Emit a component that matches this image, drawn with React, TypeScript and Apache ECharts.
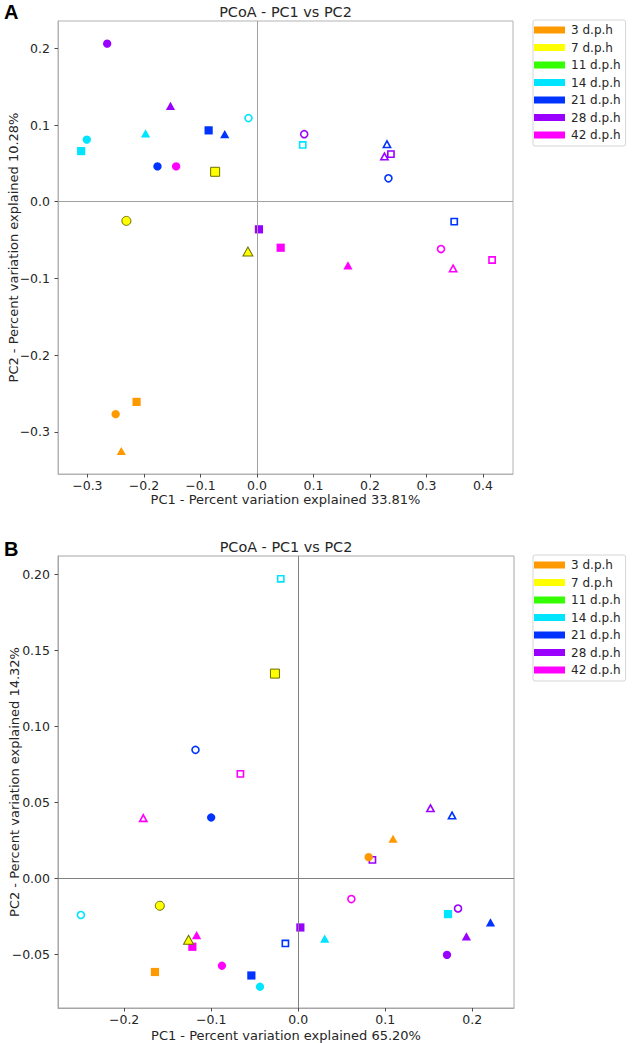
import React, { useEffect, useRef } from 'react';
import * as echarts from 'echarts';

const groups = ['3 d.p.h', '7 d.p.h', '11 d.p.h', '14 d.p.h', '21 d.p.h', '28 d.p.h', '42 d.p.h'];
const groupColors = ['#ff9900', '#ffff00', '#33ff00', '#00e5ff', '#0033ff', '#9900ff', '#ff00ff'];

// rows: [PC1, PC2, marker ('o' circle, 's' square, '^' triangle), filled (1) / hollow (0)]
type Pt = [number, number, string, number];

// ---- Panel A ----
const pcoaA_3dph: Pt[] = [[-0.250, -0.277, 'o', 1], [-0.213, -0.261, 's', 1], [-0.240, -0.325, '^', 1]];
const pcoaA_7dph: Pt[] = [[-0.231, -0.025, 'o', 1], [-0.074, 0.039, 's', 1], [-0.016, -0.065, '^', 1]];
const pcoaA_11dph: Pt[] = [];
const pcoaA_14dph: Pt[] = [[-0.301, 0.081, 'o', 1], [-0.311, 0.066, 's', 1], [-0.197, 0.089, '^', 1], [-0.015, 0.109, 'o', 0], [0.081, 0.074, 's', 0]];
const pcoaA_21dph: Pt[] = [[-0.176, 0.046, 'o', 1], [-0.0855, 0.093, 's', 1], [-0.057, 0.088, '^', 1], [0.2326, 0.0305, 'o', 0], [0.349, -0.026, 's', 0], [0.230, 0.075, '^', 0]];
const pcoaA_28dph: Pt[] = [[-0.265, 0.206, 'o', 1], [-0.153, 0.125, '^', 1], [0.0035, -0.036, 's', 1], [0.0836, 0.088, 'o', 0], [0.2255, 0.059, '^', 0], [0.237, 0.062, 's', 0]];
const pcoaA_42dph: Pt[] = [[-0.143, 0.046, 'o', 1], [0.042, -0.060, 's', 1], [0.161, -0.083, '^', 1], [0.3256, -0.0617, 'o', 0], [0.347, -0.087, '^', 0], [0.416, -0.076, 's', 0]];

// ---- Panel B ----
const pcoaB_3dph: Pt[] = [[-0.1646, -0.0618, 's', 1], [0.109, 0.0259, '^', 1], [0.081, 0.0138, 'o', 1]];
const pcoaB_7dph: Pt[] = [[-0.0267, 0.1346, 's', 1], [-0.159, -0.0182, 'o', 1], [-0.126, -0.0406, '^', 1]];
const pcoaB_11dph: Pt[] = [];
const pcoaB_14dph: Pt[] = [[-0.020, 0.197, 's', 0], [-0.2497, -0.0243, 'o', 0], [-0.0439, -0.0715, 'o', 1], [0.0305, -0.0398, '^', 1], [0.1722, -0.0237, 's', 1]];
const pcoaB_21dph: Pt[] = [[-0.118, 0.0844, 'o', 0], [-0.100, 0.0399, 'o', 1], [-0.0538, -0.0641, 's', 1], [-0.0147, -0.043, 's', 0], [0.1768, 0.0412, '^', 0], [0.221, -0.0292, '^', 1]];
const pcoaB_28dph: Pt[] = [[0.0025, -0.0325, 's', 1], [0.152, 0.046, '^', 0], [0.0853, 0.012, 's', 0], [0.1837, -0.020, 'o', 0], [0.1933, -0.0384, '^', 1], [0.171, -0.0505, 'o', 1]];
const pcoaB_42dph: Pt[] = [[-0.0664, 0.0686, 's', 0], [-0.178, 0.0395, '^', 0], [-0.1167, -0.0375, '^', 1], [-0.1216, -0.0452, 's', 1], [-0.0876, -0.0577, 'o', 1], [0.0611, -0.0138, 'o', 0]];

const pcoaA = [pcoaA_3dph, pcoaA_7dph, pcoaA_11dph, pcoaA_14dph, pcoaA_21dph, pcoaA_28dph, pcoaA_42dph];
const pcoaB = [pcoaB_3dph, pcoaB_7dph, pcoaB_11dph, pcoaB_14dph, pcoaB_21dph, pcoaB_28dph, pcoaB_42dph];

// tick values
const ticksA_x = [-0.3, -0.2, -0.1, 0.0, 0.1, 0.2, 0.3, 0.4];
const ticksA_y = [-0.3, -0.2, -0.1, 0.0, 0.1, 0.2];
const ticksB_x = [-0.2, -0.1, 0.0, 0.1, 0.2];
const ticksB_y = [-0.05, 0.0, 0.05, 0.1, 0.15, 0.2];

const titleText = 'PCoA - PC1 vs PC2';
const xNameA = 'PC1 - Percent variation explained 33.81%';
const yNameA = 'PC2 - Percent variation explained 10.28%';
const xNameB = 'PC1 - Percent variation explained 65.20%';
const yNameB = 'PC2 - Percent variation explained 14.32%';

const FONT = 'DejaVu Sans';
const TEXT = '#262626';

const symbolOf: Record<string, string> = { o: 'circle', s: 'rect', '^': 'triangle' };

function fmt(dec: number) {
  return (v: number) => (v < -1e-9 ? '\u2212' : '') + Math.abs(v).toFixed(dec);
}

function sizeOf(m: string, filled: number, isYellow: boolean): number | number[] {
  if (!filled) {
    if (m === 'o') return 7;
    if (m === 's') return 6.2;
    return [7.2, 6.6];
  }
  if (isYellow) {
    if (m === 'o') return 9;
    if (m === 's') return 9;
    return [10, 9];
  }
  if (m === 'o') return 8.3;
  if (m === 's') return 8.2;
  return [9.2, 8.2];
}

function buildSeries(data: Pt[][], idx: number, zeroColor: string) {
  const series: any[] = [];
  series.push({
    type: 'scatter',
    name: 'zero-' + idx,
    xAxisIndex: idx,
    yAxisIndex: idx,
    data: [[0, 0]],
    symbolSize: 0,
    silent: true,
    z: 1,
    markLine: {
      silent: true,
      symbol: ['none', 'none'],
      label: { show: false },
      lineStyle: { color: zeroColor, width: 1, type: 'solid' },
      emphasis: { disabled: true },
      data: [{ xAxis: 0 }, { yAxis: 0 }],
    },
  });
  for (let g = groups.length - 1; g >= 0; g--) {
    const color = groupColors[g];
    const isYellow = g === 1;
    series.push({
      type: 'scatter',
      name: groups[g],
      xAxisIndex: idx,
      yAxisIndex: idx,
      z: 3,
      silent: true,
      itemStyle: { color, opacity: 1 },
      emphasis: { disabled: true },
      data: data[g].map(([x, y, m, f]) => ({
        value: [x, y],
        symbol: symbolOf[m],
        symbolSize: sizeOf(m, f, isYellow),
        itemStyle: f
          ? isYellow
            ? { color, borderColor: '#6e6e00', borderWidth: 1 }
            : { color, borderWidth: 0 }
          : { color: 'transparent', borderColor: color, borderWidth: 1.6 },
      })),
    });
  }
  return series;
}

function axis(
  grid: number,
  min: number,
  max: number,
  ticks: number[],
  dec: number,
  name: string,
  nameGap: number,
  frame: string,
  isY: boolean
) {
  return {
    gridIndex: grid,
    type: 'value',
    min,
    max,
    name,
    nameLocation: 'middle',
    nameGap,
    nameMoveOverlap: false,
    nameTextStyle: { fontSize: 13, color: TEXT, fontFamily: FONT },
    axisLine: { show: true, onZero: false, lineStyle: { color: frame, width: 1 } },
    axisTick: { show: true, inside: false, length: 3.5, customValues: ticks, lineStyle: { color: '#4d4d4d', width: 1 } },
    axisLabel: {
      show: true,
      customValues: ticks,
      formatter: fmt(dec),
      fontSize: 12.5,
      color: TEXT,
      fontFamily: FONT,
      margin: isY ? 8 : 5,
    },
    splitLine: { show: false },
  };
}

function legend(left: number, top: number) {
  return {
    show: true,
    orient: 'vertical',
    left,
    top,
    data: groups,
    icon: 'rect',
    itemWidth: 31,
    itemHeight: 7,
    itemGap: 3.5,
    itemStyle: { borderWidth: 0 },
    selectedMode: false,
    padding: [3, 5, 4, 1],
    backgroundColor: '#ffffff',
    borderColor: '#d5d5d5',
    borderWidth: 1,
    borderRadius: 2,
    textStyle: { fontSize: 12, lineHeight: 14, color: TEXT, fontFamily: FONT, padding: [0, 0, 0, 1] },
  };
}

function textEl(text: string, x: number, y: number, font: string) {
  return {
    type: 'text',
    x,
    y,
    silent: true,
    style: {
      text,
      font,
      fill: TEXT,
      align: 'center',
      verticalAlign: 'middle',
      textAlign: 'center',
      textVerticalAlign: 'middle',
    },
  };
}

function labelEl(text: string, x: number, y: number) {
  return {
    type: 'text',
    x,
    y,
    silent: true,
    style: {
      text,
      font: 'bold 20px "Liberation Sans", Arial, sans-serif',
      fill: '#000000',
      align: 'left',
      verticalAlign: 'middle',
      textAlign: 'left',
      textVerticalAlign: 'middle',
    },
  };
}

export default function App() {
  const ref = useRef<HTMLDivElement>(null);
  useEffect(() => {
    if (!ref.current) return;
    const chart = echarts.init(ref.current, undefined, { renderer: 'svg' });
    const frameA = '#b3b3b3';
    const frameB = '#a6a6a6';
    const option: any = {
      animation: false,
      backgroundColor: '#ffffff',
      textStyle: { fontFamily: FONT },
      grid: [
        { left: 58, top: 21, width: 455, height: 453, show: true, borderColor: frameA, borderWidth: 1, backgroundColor: 'transparent', containLabel: false, outerBoundsMode: 'none' },
        { left: 58, top: 556, width: 456, height: 452, show: true, borderColor: frameB, borderWidth: 1, backgroundColor: 'transparent', containLabel: false, outerBoundsMode: 'none' },
      ],
      xAxis: [
        axis(0, -0.352, 0.453, ticksA_x, 1, xNameA, 19, frameA, false),
        axis(1, -0.276, 0.248, ticksB_x, 1, xNameB, 21, frameB, false),
      ],
      yAxis: [
        axis(0, -0.355, 0.2356, ticksA_y, 1, yNameA, 38, frameA, true),
        axis(1, -0.0855, 0.212, ticksB_y, 2, yNameB, 37, frameB, true),
      ],
      legend: [legend(533, 20), legend(533, 555)],
      graphic: [
        textEl(titleText, 285.5, 12, '14.4px "DejaVu Sans"'),
        textEl(titleText, 286, 547, '14.4px "DejaVu Sans"'),
        labelEl('A', 4, 12),
        labelEl('B', 4, 549),
      ],
      series: [...buildSeries(pcoaA, 0, '#a0a0a0'), ...buildSeries(pcoaB, 1, '#808080')],
    };
    chart.setOption(option);
    return () => chart.dispose();
  }, []);
  return (
    <div
      ref={ref}
      style={{ position: 'absolute', left: 0, top: 0, width: 633, height: 1043, background: '#fff' }}
    />
  );
}
